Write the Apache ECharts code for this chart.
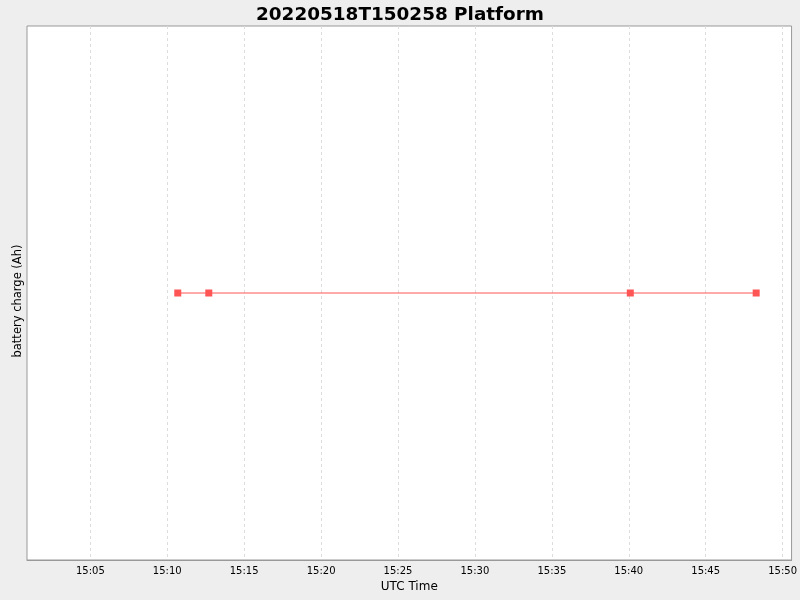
<!DOCTYPE html>
<html>
<head>
<meta charset="utf-8">
<script src="https://cdn.jsdelivr.net/npm/echarts@6/dist/echarts.min.js"></script>
<style>
  html, body { margin: 0; padding: 0; background: #eeeeee; }
  #main { width: 800px; height: 600px; }
</style>
</head>
<body>
<div id="main"></div>
<script>
const chartTitle = '20220518T150258 Platform';
const times = ['15:10:41', '15:12:42', '15:40:06', '15:48:17'];
const charge = [0, 0, 0, 0];
const tickTimes = ['15:05', '15:10', '15:15', '15:20', '15:25', '15:30', '15:35', '15:40', '15:45', '15:50'];
const xRange = ['15:00:53', '15:50:35'];

// seconds since midnight UTC
function toSec(t) {
  const p = t.split(':').map(Number);
  return p[0] * 3600 + p[1] * 60 + (p[2] || 0);
}
function pad(n) { return (n < 10 ? '0' : '') + n; }

const myChart = echarts.init(document.getElementById('main'));

const option = {
  backgroundColor: '#eeeeee',
  animation: false,
  title: {
    text: chartTitle,
    left: 'center',
    top: 1,
    textStyle: {
      fontFamily: 'DejaVu Sans',
      fontWeight: 'bold',
      fontSize: 18.4,
      color: '#000'
    }
  },
  grid: {
    left: 27,
    right: 8,
    top: 26,
    bottom: 40,
    show: true,
    backgroundColor: '#ffffff',
    borderColor: '#999999',
    borderWidth: 1
  },
  xAxis: {
    type: 'value',
    min: toSec(xRange[0]),
    max: toSec(xRange[1]),
    name: 'UTC Time',
    nameLocation: 'middle',
    nameGap: 19,
    nameTextStyle: { fontFamily: 'DejaVu Sans', fontSize: 12, color: '#000' },
    axisLine: { show: true, onZero: false, lineStyle: { color: '#999999' } },
    axisTick: { show: false, customValues: tickTimes.map(toSec) },
    axisLabel: {
      customValues: tickTimes.map(toSec),
      margin: 6,
      fontFamily: 'DejaVu Sans',
      fontSize: 10,
      color: '#000',
      formatter: function (v) {
        return pad(Math.floor(v / 3600)) + ':' + pad(Math.floor(v % 3600 / 60));
      }
    },
    splitLine: {
      show: true,
      lineStyle: { color: '#dddddd', type: [3, 3], width: 1 }
    }
  },
  yAxis: {
    type: 'value',
    min: -1,
    max: 1,
    name: 'battery charge (Ah)',
    nameLocation: 'middle',
    nameGap: 3,
    nameTextStyle: { fontFamily: 'DejaVu Sans', fontSize: 11.5, color: '#000', padding: [0, 16, 0, 0] },
    axisLine: { show: false },
    axisTick: { show: false },
    axisLabel: { show: false },
    splitLine: { show: false }
  },
  series: [{
    type: 'line',
    data: times.map(function (t, i) { return [toSec(t), charge[i]]; }),
    symbol: 'rect',
    symbolSize: 7,
    showSymbol: true,
    itemStyle: { color: '#ff5555' },
    lineStyle: { color: '#ff5555', width: 1 }
  }]
};
myChart.setOption(option);
</script>
</body>
</html>
